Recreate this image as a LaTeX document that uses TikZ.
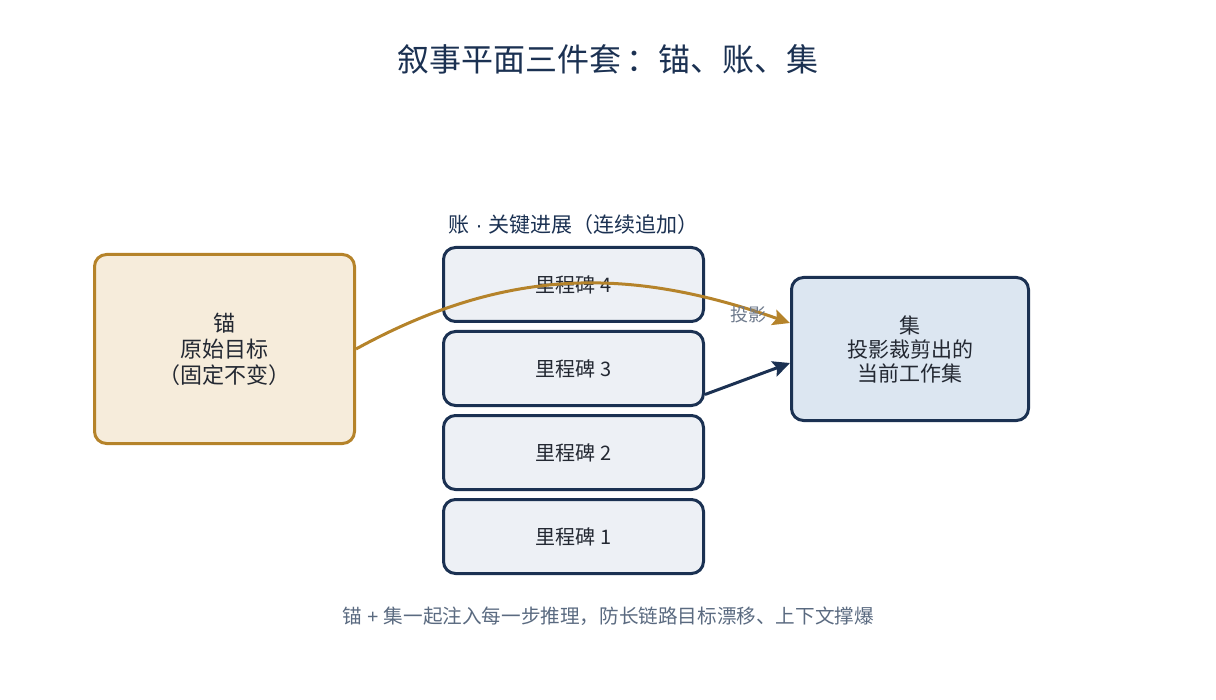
\documentclass[tikz,border=0pt]{standalone}
\usepackage{fontspec}
\setmainfont{Noto Sans CJK SC}
\newfontfamily\latinfont{Liberation Sans}
\usetikzlibrary{arrows.meta, positioning}

\begin{document}
\begin{tikzpicture}[
    x=0.5pt, y=-0.5pt,
    >=Stealth,
    % --- Styles ---
    anchorbox/.style={
        rectangle, minimum width=130pt, minimum height=94.5pt,
        align=center, rounded corners=6pt, line width=1.5pt,
        draw=anchor_border, fill=anchor_fill, text=text_dark,
        font=\fontsize{11}{13}\selectfont
    },
    milestone/.style={
        rectangle, minimum width=130pt, minimum height=37pt,
        align=center, rounded corners=6pt, line width=1.5pt,
        draw=navy, fill=ms_fill, text=text_dark,
        font=\fontsize{10}{12}\selectfont
    },
    setbox/.style={
        rectangle, minimum width=118.5pt, minimum height=71.5pt,
        align=center, rounded corners=6pt, line width=1.5pt,
        draw=navy, fill=set_fill, text=text_dark,
        font=\fontsize{10.5}{12}\selectfont
    },
    project/.style={line width=1.5pt, draw=anchor_border,
        arrows={-Stealth[length=8.5pt, width=8pt, inset=1.5pt]}},
    feed/.style={line width=1.5pt, draw=navy,
        arrows={-Stealth[length=8.5pt, width=8pt, inset=1.5pt]}},
    label/.style={font=\fontsize{9}{10}\selectfont, text=label_gray}
]

    % ── Colour Palette ──────────────────────────────────────────────────
    \definecolor{anchor_fill}{RGB}{246, 236, 219}
    \definecolor{anchor_border}{RGB}{181, 131, 42}
    \definecolor{navy}{RGB}{27, 49, 82}
    \definecolor{ms_fill}{RGB}{237, 240, 245}
    \definecolor{set_fill}{RGB}{220, 230, 241}
    \definecolor{text_dark}{RGB}{35, 40, 50}
    \definecolor{label_gray}{RGB}{110, 122, 140}
    \definecolor{note_gray}{RGB}{90, 106, 128}

    \useasboundingbox (0,0) rectangle (1216,700);

    % ── NODES ───────────────────────────────────────────────────────────

    % Title
    \node (title) [text=navy, font=\fontsize{16}{18}\selectfont] at (608,59)
        {叙事平面三件套\,：锚、账、集};

    % Anchor
    \node (anchor) [anchorbox] at (224.5,349)
        {锚\\原始目标\\（固定不变）};

    % Ledger: milestones
    \node (m4) [milestone] at (573.5,284.5) {里程碑 4};
    \node (m3) [milestone, below=3.5pt of m4] {里程碑 3};
    \node (m2) [milestone, below=3.5pt of m3] {里程碑 2};
    \node (m1) [milestone, below=3.5pt of m2] {里程碑 1};

    \node (ledger) [above=2pt of m4, text=navy,
                    font=\fontsize{10.5}{12}\selectfont]
        {账{\latinfont\ · }关键进展（连续追加）};

    % Working set
    \node (set) [setbox] at (910,349)
        {集\\投影裁剪出的\\当前工作集};

    % Note
    \node (note) [text=note_gray, font=\fontsize{9.8}{11}\selectfont] at (608,616)
        {锚{\latinfont\ + }集一起注入每一步推理，防长链路目标漂移、上下文撑爆};

    % ── ARROWS ──────────────────────────────────────────────────────────

    \draw [feed] ([yshift=-13pt]m3.east) -- ([yshift=-7pt]set.west);

    \draw [project] (anchor.east)
        .. controls +(155,-85) and +(-155,-54) ..
        node[label, pos=0.9, yshift=-3pt, xshift=2pt] {投影}
        ([yshift=13pt]set.west);

\end{tikzpicture}
\end{document}
